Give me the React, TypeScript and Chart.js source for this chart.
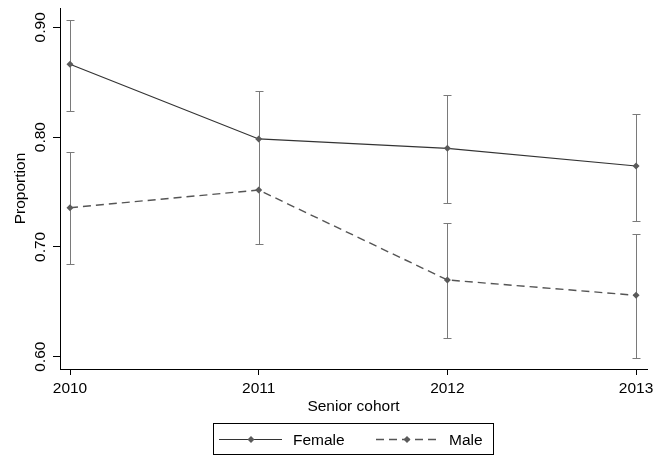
import React, { useEffect, useRef } from "react";
import { Chart, registerables } from "chart.js";

Chart.register(...registerables);

const years = [2010, 2011, 2012, 2013];
const femaleMean = [0.8663, 0.7983, 0.7898, 0.7737];
const femaleLow = [0.824, 0.7546, 0.7403, 0.7239];
const femaleHigh = [0.9069, 0.842, 0.8381, 0.8208];
const maleMean = [0.7357, 0.7518, 0.6699, 0.6559];
const maleLow = [0.6844, 0.7026, 0.6168, 0.5985];
const maleHigh = [0.7864, 0.801, 0.722, 0.712];
const yTicks = [0.6, 0.7, 0.8, 0.9];
const yTickLabels = ["0.60", "0.70", "0.80", "0.90"];
const xTitle = "Senior cohort";
const yTitle = "Proportion";
const seriesNames = ["Female", "Male"];

const FONT = '15.5px "Liberation Sans", Arial, sans-serif';

export default function App() {
  const ref = useRef<HTMLCanvasElement | null>(null);

  useEffect(() => {
    if (!ref.current) return;

    const errorBars = {
      id: "errorBars",
      beforeDatasetsDraw(chart: any) {
        const { ctx } = chart;
        const xs = chart.scales.x;
        const ys = chart.scales.y;
        ctx.save();
        ctx.strokeStyle = "#7a7a7a";
        ctx.lineWidth = 1;
        const inside = (v: number, lo: number, hi: number) => v > lo && v < hi;
        const draw = (lo: number[], hi: number[], oLo: number[], oHi: number[]) => {
          years.forEach((yr, i) => {
            const px = Math.round(xs.getPixelForValue(yr)) + 0.5;
            const pl = Math.round(ys.getPixelForValue(lo[i])) + 0.5;
            const ph = Math.round(ys.getPixelForValue(hi[i])) + 0.5;
            ctx.beginPath();
            ctx.moveTo(px, pl);
            ctx.lineTo(px, ph);
            if (!inside(lo[i], oLo[i], oHi[i])) {
              ctx.moveTo(px - 4, pl);
              ctx.lineTo(px + 4, pl);
            }
            if (!inside(hi[i], oLo[i], oHi[i])) {
              ctx.moveTo(px - 4, ph);
              ctx.lineTo(px + 4, ph);
            }
            ctx.stroke();
          });
        };
        draw(femaleLow, femaleHigh, maleLow, maleHigh);
        draw(maleLow, maleHigh, femaleLow, femaleHigh);
        ctx.restore();
      },
    };

    const labels = {
      id: "labels",
      afterDraw(chart: any) {
        const { ctx, chartArea } = chart;
        const xs = chart.scales.x;
        const ys = chart.scales.y;
        ctx.save();
        ctx.fillStyle = "#000";
        ctx.font = FONT;
        yTicks.forEach((v, i) => {
          const py = ys.getPixelForValue(v);
          ctx.save();
          ctx.translate(45, py);
          ctx.rotate(-Math.PI / 2);
          ctx.textAlign = "center";
          ctx.textBaseline = "alphabetic";
          ctx.fillText(yTickLabels[i], 0, 0);
          ctx.restore();
        });
        ctx.save();
        ctx.translate(25, (chartArea.top + chartArea.bottom) / 2);
        ctx.rotate(-Math.PI / 2);
        ctx.textAlign = "center";
        ctx.textBaseline = "alphabetic";
        ctx.fillText(yTitle, 0, 0);
        ctx.restore();
        ctx.textAlign = "center";
        ctx.textBaseline = "alphabetic";
        years.forEach((yr) => {
          ctx.fillText(String(yr), xs.getPixelForValue(yr), 393);
        });
        ctx.fillText(xTitle, (chartArea.left + chartArea.right) / 2, 411);

        const bx = 213.5, by = 423.5, bw = 280, bh = 31;
        ctx.fillStyle = "#fff";
        ctx.fillRect(bx, by, bw, bh);
        ctx.strokeStyle = "#000";
        ctx.lineWidth = 1;
        ctx.strokeRect(bx, by, bw, bh);
        const ly = 439.5;
        ctx.strokeStyle = "#333";
        ctx.lineWidth = 1.2;
        ctx.beginPath();
        ctx.moveTo(219, ly);
        ctx.lineTo(282, ly);
        ctx.stroke();
        const diamond = (cx: number, cy: number) => {
          ctx.fillStyle = "#5a5a5a";
          ctx.beginPath();
          ctx.moveTo(cx, cy - 3.5);
          ctx.lineTo(cx + 3.5, cy);
          ctx.lineTo(cx, cy + 3.5);
          ctx.lineTo(cx - 3.5, cy);
          ctx.closePath();
          ctx.fill();
        };
        diamond(251, ly);
        ctx.strokeStyle = "#555";
        ctx.lineWidth = 1.4;
        ctx.setLineDash([8, 5]);
        ctx.beginPath();
        ctx.moveTo(376, ly);
        ctx.lineTo(438, ly);
        ctx.stroke();
        ctx.setLineDash([]);
        diamond(407, ly);
        ctx.fillStyle = "#000";
        ctx.font = FONT;
        ctx.textAlign = "left";
        ctx.fillText(seriesNames[0], 293, 445);
        ctx.fillText(seriesNames[1], 449, 445);
        ctx.restore();
      },
    };

    const chart = new Chart(ref.current, {
      type: "line",
      data: {
        datasets: [
          {
            label: seriesNames[0],
            data: years.map((x, i) => ({ x, y: femaleMean[i] })),
            borderColor: "#333",
            borderWidth: 1.2,
            pointStyle: "rectRot",
            pointRadius: 3.5,
            pointBackgroundColor: "#5a5a5a",
            pointBorderWidth: 0,
            tension: 0,
          },
          {
            label: seriesNames[1],
            data: years.map((x, i) => ({ x, y: maleMean[i] })),
            borderColor: "#555",
            borderWidth: 1.4,
            borderDash: [8, 5],
            pointStyle: "rectRot",
            pointRadius: 3.5,
            pointBackgroundColor: "#5a5a5a",
            pointBorderWidth: 0,
            tension: 0,
          },
        ],
      },
      options: {
        animation: false,
        responsive: false,
        devicePixelRatio: 1,
        layout: { padding: { top: 8, right: 10, left: 0, bottom: 0 } },
        plugins: { legend: { display: false }, tooltip: { enabled: false } },
        scales: {
          x: {
            type: "linear",
            min: 2009.947,
            max: 2013.058,
            afterBuildTicks: (s: any) => {
              s.ticks = years.map((v) => ({ value: v }));
            },
            afterFit: (s: any) => {
              s.height = 89;
            },
            ticks: { display: false },
            grid: { drawOnChartArea: false, drawTicks: true, tickLength: 6, color: "#000" },
            border: { display: true, color: "#000", width: 1 },
          },
          y: {
            type: "linear",
            min: 0.5888,
            max: 0.91758,
            afterBuildTicks: (s: any) => {
              s.ticks = yTicks.map((v) => ({ value: v }));
            },
            afterFit: (s: any) => {
              s.width = 60;
            },
            ticks: { display: false },
            grid: { drawOnChartArea: false, drawTicks: true, tickLength: 7, color: "#000" },
            border: { display: true, color: "#000", width: 1 },
          },
        },
      },
      plugins: [errorBars, labels],
    });

    return () => chart.destroy();
  }, []);

  return (
    <div style={{ position: "absolute", left: 0, top: 0, width: 657, height: 458, background: "#fff" }}>
      <canvas ref={ref} width={657} height={458} style={{ display: "block" }} />
    </div>
  );
}
